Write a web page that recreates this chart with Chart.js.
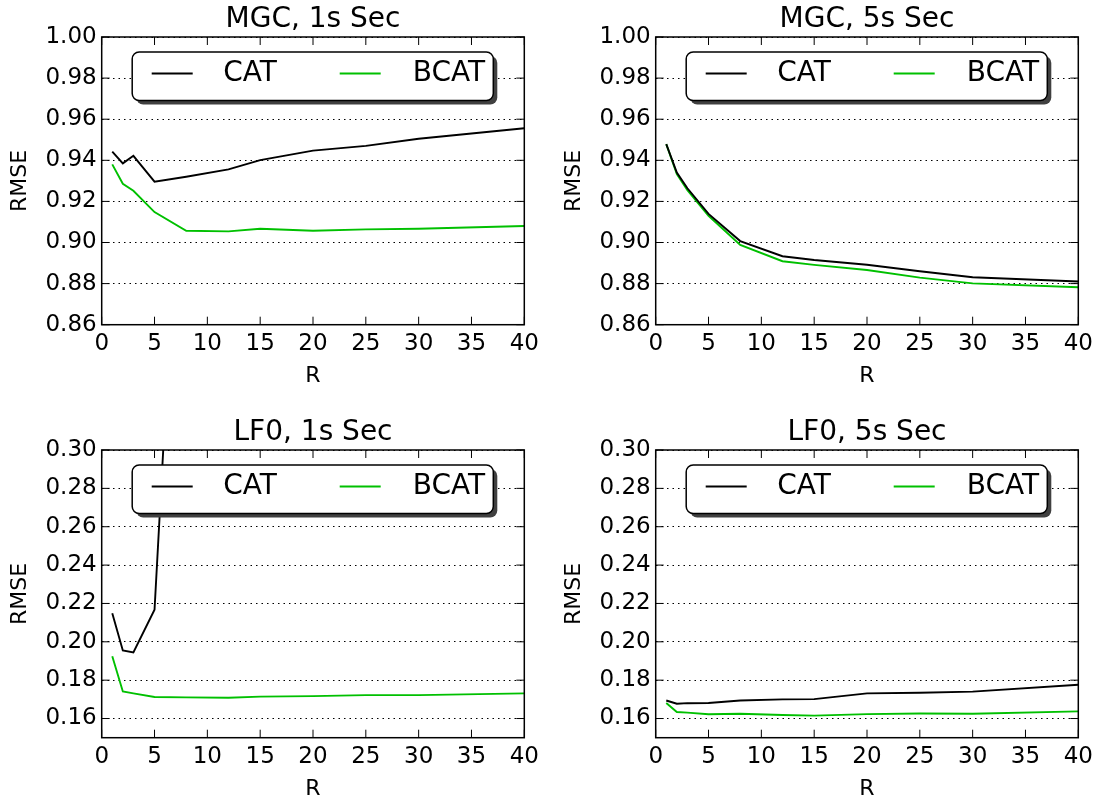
<!DOCTYPE html>
<html>
<head>
<meta charset="utf-8">
<script src="https://cdn.jsdelivr.net/npm/chart.js@4/dist/chart.umd.min.js"></script>
<style>
  html, body { margin: 0; padding: 0; background: #fff; overflow: hidden; }
  #wrap { position: relative; width: 1104px; height: 798px; }
  canvas { position: absolute; }
</style>
</head>
<body>
<div id="wrap">
  <canvas id="c1" width="550" height="400" style="left:0px;top:0px"></canvas>
  <canvas id="c2" width="550" height="400" style="left:554px;top:0px"></canvas>
  <canvas id="c3" width="550" height="400" style="left:0px;top:413px"></canvas>
  <canvas id="c4" width="550" height="400" style="left:554px;top:413px"></canvas>
</div>
<script>
// R values on the x axis
var R = [1, 2, 3, 5, 8, 12, 15, 20, 25, 30, 40];
var xTicks = [0, 5, 10, 15, 20, 25, 30, 35, 40];
var yTicksMGC = [0.86, 0.88, 0.90, 0.92, 0.94, 0.96, 0.98, 1.00];
var yTicksLF0 = [0.16, 0.18, 0.20, 0.22, 0.24, 0.26, 0.28, 0.30];

// MGC, 1s
var mgc1Cat  = [0.9442, 0.9385, 0.9422, 0.9296, 0.9320, 0.9356, 0.9401, 0.9447, 0.9470, 0.9505, 0.9556];
var mgc1Bcat = [0.9380, 0.9286, 0.9252, 0.9148, 0.9057, 0.9054, 0.9067, 0.9057, 0.9064, 0.9067, 0.9080];
// MGC, 5s
var mgc5Cat  = [0.9479, 0.9340, 0.9264, 0.9139, 0.9007, 0.8933, 0.8915, 0.8892, 0.8860, 0.8831, 0.8810];
var mgc5Bcat = [0.9479, 0.9333, 0.9255, 0.9130, 0.8988, 0.8909, 0.8891, 0.8866, 0.8829, 0.8801, 0.8782];
// LF0, 1s (CAT leaves the plot after R=5)
var lf01Cat  = [0.2149, 0.1955, 0.1944, 0.2167, 0.52, 0.66, 0.72, 0.78, 0.82, 0.85, 0.90];
var lf01Bcat = [0.1925, 0.1741, 0.1731, 0.1712, 0.1710, 0.1708, 0.1714, 0.1717, 0.1722, 0.1722, 0.1731];
// LF0, 5s
var lf05Cat  = [0.1694, 0.1677, 0.1680, 0.1681, 0.1694, 0.1700, 0.1701, 0.1731, 0.1734, 0.1740, 0.1776];
var lf05Bcat = [0.1681, 0.1634, 0.1631, 0.1622, 0.1625, 0.1618, 0.1615, 0.1623, 0.1626, 0.1625, 0.1637];

var catColor = '#000000';
var bcatColor = '#00c000';

Chart.defaults.font.family = '"DejaVu Sans", sans-serif';
Chart.defaults.color = '#000';

function pts(ys) {
    return R.map(function (r, i) { return { x: r, y: ys[i] }; });
}

// box round the plot plus matplotlib style inward ticks
var frame = {
    id: 'frame',
    afterDatasetsDraw: function (chart) {
        var a = chart.chartArea, ctx = chart.ctx;
        var xs = chart.scales.x, ys = chart.scales.y;
        var tl = 8;
        ctx.save();
        ctx.strokeStyle = '#000';
        ctx.lineWidth = 1;
        ctx.beginPath();
        xs.ticks.forEach(function (t) {
            var px = xs.getPixelForValue(t.value);
            ctx.moveTo(px, a.bottom); ctx.lineTo(px, a.bottom - tl);
            ctx.moveTo(px, a.top); ctx.lineTo(px, a.top + tl);
        });
        ys.ticks.forEach(function (t) {
            var py = ys.getPixelForValue(t.value);
            ctx.moveTo(a.left, py); ctx.lineTo(a.left + tl, py);
            ctx.moveTo(a.right, py); ctx.lineTo(a.right - tl, py);
        });
        ctx.stroke();
        ctx.lineWidth = 1.5;
        ctx.strokeRect(a.left, a.top, a.right - a.left, a.bottom - a.top);
        ctx.restore();
    }
};

// legend box with shadow, two columns
var legendBox = {
    id: 'legendBox',
    afterDraw: function (chart) {
        var a = chart.chartArea, ctx = chart.ctx;
        var x = a.left + 30.5, y = a.top + 15;
        var w = a.right - a.left - 61.5, h = 48.5;
        var sampleX = [19.5, 207.5], textX = [91, 280.5];
        var cy = y + 21.5;
        ctx.save();
        ctx.fillStyle = '#404040';
        ctx.beginPath(); ctx.roundRect(x + 4, y + 4, w, h, 7); ctx.fill();
        ctx.fillStyle = '#fff';
        ctx.beginPath(); ctx.roundRect(x, y, w, h, 7); ctx.fill();
        ctx.lineWidth = 1.5; ctx.strokeStyle = '#000'; ctx.stroke();
        ctx.font = '28px "DejaVu Sans", sans-serif';
        ctx.textBaseline = 'middle';
        ctx.textAlign = 'left';
        chart.data.datasets.forEach(function (ds, i) {
            ctx.strokeStyle = ds.borderColor;
            ctx.lineWidth = ds.borderWidth;
            ctx.beginPath();
            ctx.moveTo(x + sampleX[i], cy); ctx.lineTo(x + sampleX[i] + 41, cy);
            ctx.stroke();
            ctx.fillStyle = '#000';
            ctx.fillText(ds.label, x + textX[i], cy);
        });
        ctx.restore();
    }
};

function makeChart(id, title, cat, bcat, yTicks, yMin, yMax) {
    var ctx = document.getElementById(id).getContext('2d');
    return new Chart(ctx, {
        type: 'line',
        data: {
            datasets: [
                { label: 'CAT', data: pts(cat), borderColor: catColor, backgroundColor: catColor,
                  borderWidth: 1.9, pointRadius: 0, tension: 0, fill: false, clip: 0 },
                { label: 'BCAT', data: pts(bcat), borderColor: bcatColor, backgroundColor: bcatColor,
                  borderWidth: 1.9, pointRadius: 0, tension: 0, fill: false, clip: 0 }
            ]
        },
        options: {
            responsive: false,
            animation: false,
            devicePixelRatio: 1,
            layout: { padding: { left: 0, right: 25.7, top: 0, bottom: 5.3 } },
            plugins: {
                legend: { display: false },
                tooltip: { enabled: false }
            },
            scales: {
                // empty top axis, only carries the subplot title centred over the plot
                top: {
                    type: 'linear', position: 'top', min: 0, max: 40,
                    afterFit: function (s) { s.height = 37; },
                    grid: { display: false, drawTicks: false },
                    border: { display: false },
                    ticks: { display: false },
                    title: { display: true, text: title, font: { size: 28 }, color: '#000', padding: { top: 3, bottom: 0 } }
                },
                x: {
                    type: 'linear', min: 0, max: 40,
                    afterFit: function (s) { s.height = 70; },
                    afterBuildTicks: function (s) { s.ticks = xTicks.map(function (v) { return { value: v }; }); },
                    grid: { display: false, drawTicks: false },
                    border: { display: false },
                    ticks: { font: { size: 23 }, padding: 6, maxRotation: 0, color: '#000' },
                    title: { display: true, text: 'R', font: { size: 22 }, color: '#000', padding: { top: 0, bottom: 5 } }
                },
                y: {
                    min: yMin, max: yMax,
                    afterFit: function (s) { s.width = 101.7; },
                    afterBuildTicks: function (s) { s.ticks = yTicks.map(function (v) { return { value: v }; }); },
                    grid: { color: '#000', lineWidth: 1, drawTicks: false },
                    border: { display: false, dash: [1.5, 4] },
                    ticks: { font: { size: 23 }, padding: 5, color: '#000',
                             callback: function (v) { return Number(v).toFixed(2); } },
                    title: { display: true, text: 'RMSE', font: { size: 22 }, color: '#000', padding: { top: 7, bottom: 0 } }
                }
            }
        },
        plugins: [frame, legendBox]
    });
}

function start() {
    makeChart('c1', 'MGC, 1s Sec', mgc1Cat, mgc1Bcat, yTicksMGC, 0.86, 1.00);
    makeChart('c2', 'MGC, 5s Sec', mgc5Cat, mgc5Bcat, yTicksMGC, 0.86, 1.00);
    makeChart('c3', 'LF0, 1s Sec', lf01Cat, lf01Bcat, yTicksLF0, 0.15, 0.30);
    makeChart('c4', 'LF0, 5s Sec', lf05Cat, lf05Bcat, yTicksLF0, 0.15, 0.30);
}
start();
</script>
</body>
</html>
